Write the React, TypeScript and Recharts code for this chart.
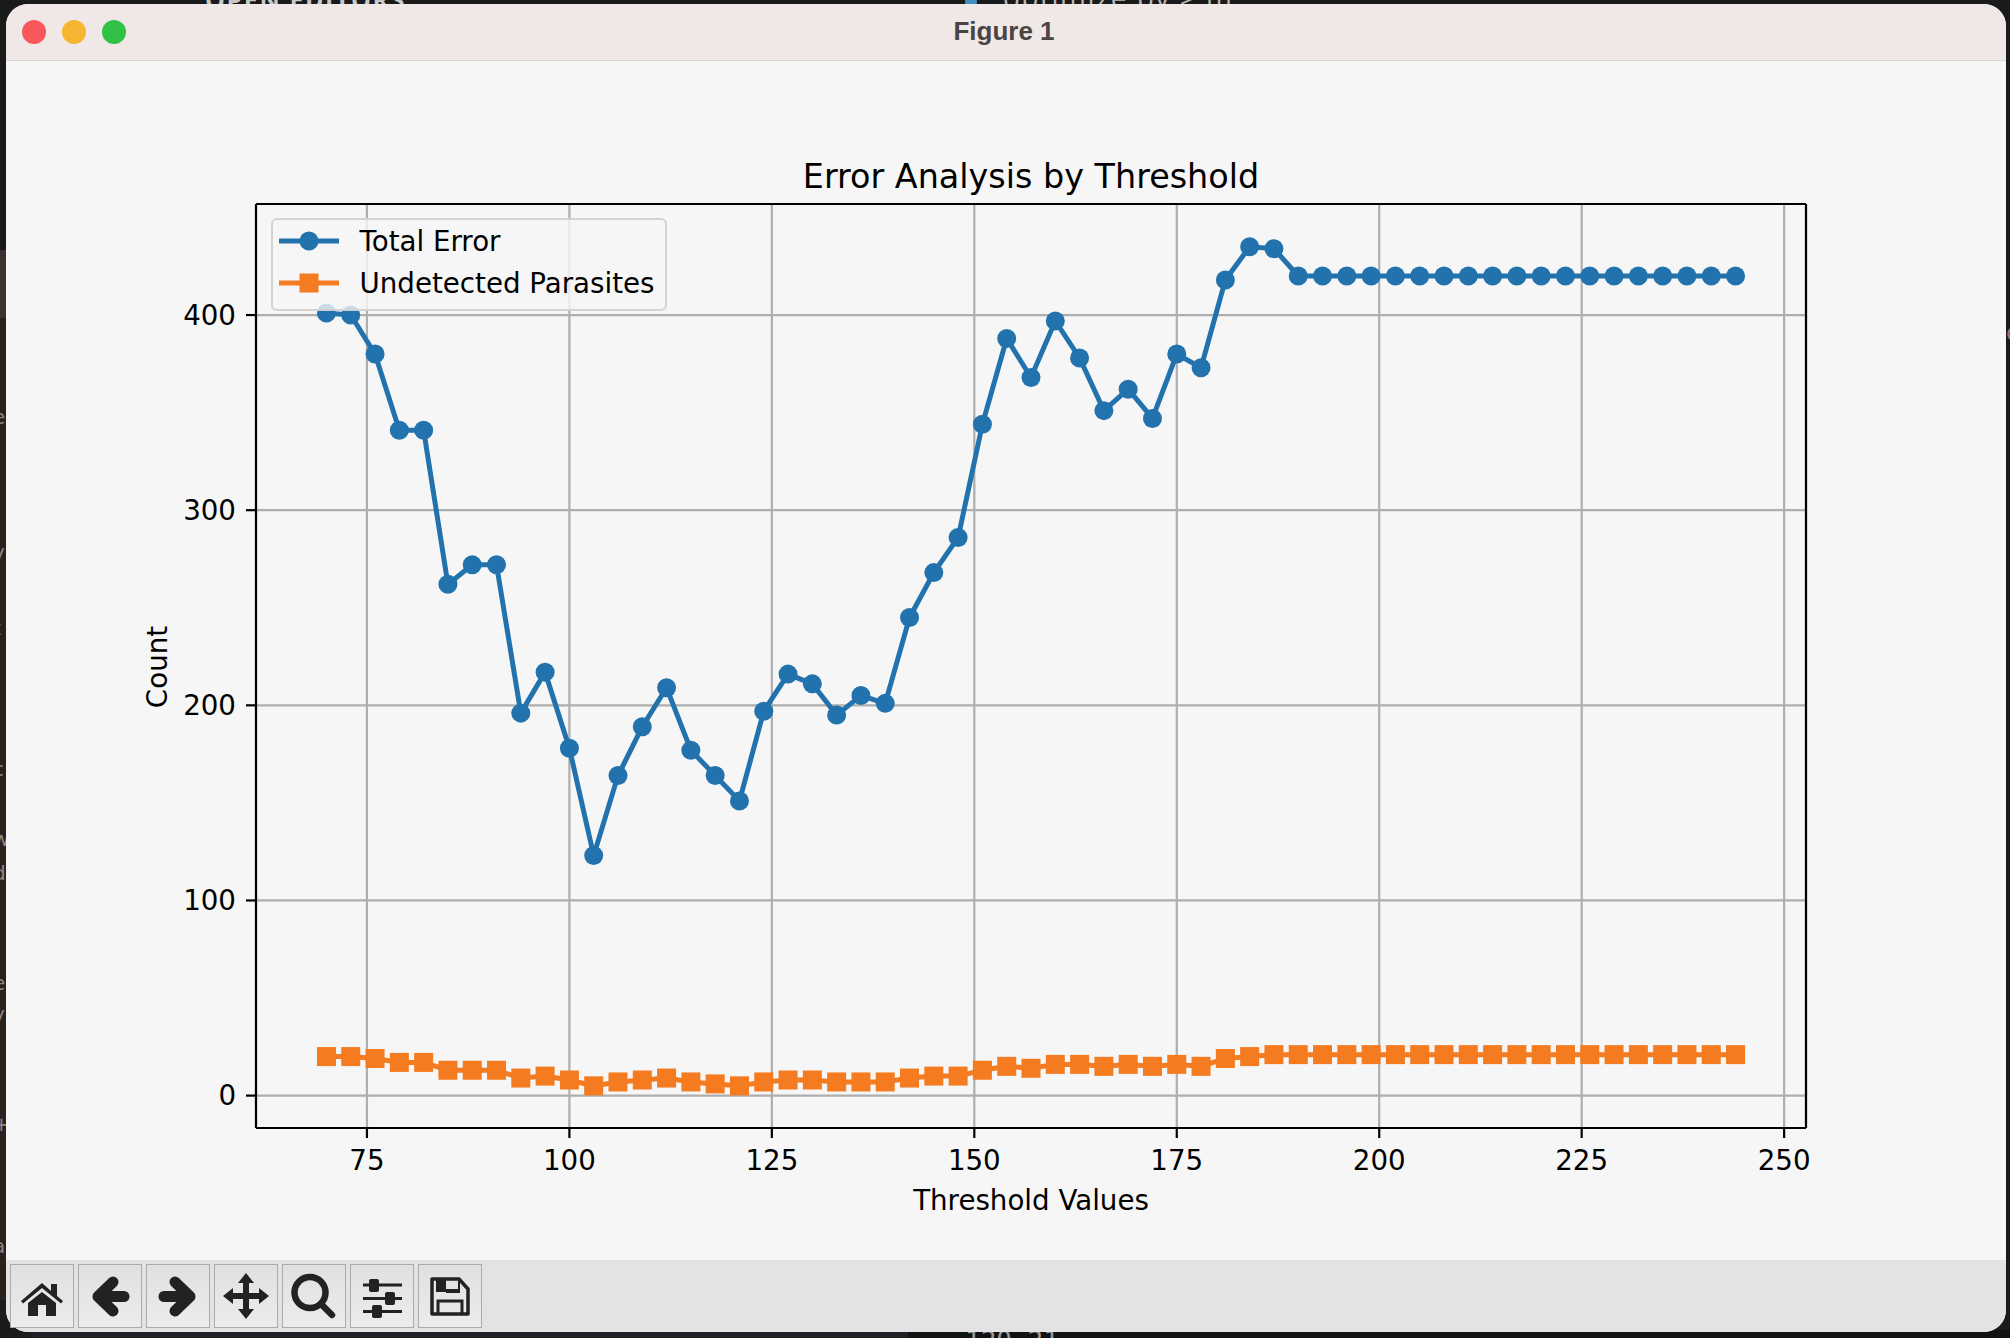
import { LineChart, Line, XAxis, YAxis, CartesianGrid, Legend } from "recharts";

const thresholds = [
  70, 73, 76, 79, 82, 85, 88, 91, 94, 97, 100, 103, 106, 109, 112, 115, 118, 121, 124, 127,
  130, 133, 136, 139, 142, 145, 148, 151, 154, 157, 160, 163, 166, 169, 172, 175, 178, 181, 184, 187,
  190, 193, 196, 199, 202, 205, 208, 211, 214, 217, 220, 223, 226, 229, 232, 235, 238, 241, 244,
];
const totalError = [
  401, 400, 380, 341, 341, 262, 272, 272, 196, 217, 178, 123, 164, 189, 209, 177, 164, 151, 197, 216,
  211, 195, 205, 201, 245, 268, 286, 344, 388, 368, 397, 378, 351, 362, 347, 380, 373, 418, 435, 434,
  420, 420, 420, 420, 420, 420, 420, 420, 420, 420, 420, 420, 420, 420, 420, 420, 420, 420, 420,
];
const undetected = [
  20, 20, 19, 17, 17, 13, 13, 13, 9, 10, 8, 5, 7, 8, 9, 7, 6, 5, 7, 8,
  8, 7, 7, 7, 9, 10, 10, 13, 15, 14, 16, 16, 15, 16, 15, 16, 15, 19, 20, 21,
  21, 21, 21, 21, 21, 21, 21, 21, 21, 21, 21, 21, 21, 21, 21, 21, 21, 21, 21,
];
const xTicks = [75, 100, 125, 150, 175, 200, 225, 250];
const yTicks = [0, 100, 200, 300, 400];

const data = thresholds.map((t, i) => ({ t, total: totalError[i], undetected: undetected[i] }));

const BLUE = "#2273ad";
const ORANGE = "#f47b20";
const FONT = "'DejaVu Sans', sans-serif";
const FS = 27.7;
const PANEL = "#f6f6f6";
const X_DOMAIN = [61.3, 252.7];
const Y_DOMAIN = [-16.6, 456.9];

// bits of the editor window showing behind the figure, cut off at the left edge
const edgeLetters: [string, number][] = [
  ["i", 298], ["e", 405], ["y", 540], [":", 583], ["t", 616], [")", 690], ["c", 757],
  ["w", 827], ["d", 861], ["e", 971], ["y", 1002], ["+", 1112], ["a", 1234],
];

function SquareDot({ cx, cy }: any) {
  return <rect x={cx - 9.5} y={cy - 9.5} width={19} height={19} fill={ORANGE} />;
}

function FrameLegend({ payload }: any) {
  return (
    <div
      style={{
        boxSizing: "border-box",
        width: 396,
        height: 93,
        background: "rgba(246,246,246,0.8)",
        border: "2.2px solid rgba(204,204,204,0.85)",
        borderRadius: 6,
        position: "relative",
        fontFamily: FONT,
        fontSize: FS,
        color: "#000",
      }}
    >
      {(payload || []).map((p: any, i: number) => (
        <div key={p.value} style={{ position: "absolute", left: 0, top: 0 }}>
          <svg width={80} height={90} style={{ position: "absolute", left: 0, top: 0 }}>
            <line x1={6} x2={66} y1={21 + i * 42} y2={21 + i * 42} stroke={p.color} strokeWidth={5} />
            {i === 0 ? (
              <circle cx={36} cy={21} r={9.5} fill={p.color} />
            ) : (
              <rect x={26.5} y={53.5} width={19} height={19} fill={p.color} />
            )}
          </svg>
          <span style={{ position: "absolute", left: 87, top: 5 + i * 42, whiteSpace: "nowrap", lineHeight: "34px" }}>
            {p.value}
          </span>
        </div>
      ))}
    </div>
  );
}

function ToolButton({ left, children }: { left: number; children: any }) {
  return (
    <div
      style={{
        position: "absolute",
        left,
        top: 1264,
        width: 64,
        height: 64,
        boxSizing: "border-box",
        border: "1.5px solid #ababab",
        background: "linear-gradient(#e0e0e0, #ececec)",
      }}
    >
      <svg width={64} height={64} viewBox="0 0 64 64" style={{ position: "absolute", left: -1.5, top: -1.5 }}>
        {children}
      </svg>
    </div>
  );
}

const DARK = "#222222";

function Toolbar() {
  return (
    <>
      <ToolButton left={10}>
        <path fill={DARK} d="M11 37 L32 19 L41 27 V20 H47 V32 L53 37 L51 39.5 L32 24 L13 39.5 Z" />
        <path fill={DARK} d="M18 39 L32 28 L46 39 V52 H36 V41 H28 V52 H18 Z" />
      </ToolButton>
      <ToolButton left={78}>
        <path fill="none" stroke={DARK} strokeWidth={11} strokeLinecap="round" strokeLinejoin="round" d="M46 32.5 H20 M35 18 L20 32.5 L35 47" />
      </ToolButton>
      <ToolButton left={146}>
        <path fill="none" stroke={DARK} strokeWidth={11} strokeLinecap="round" strokeLinejoin="round" d="M18 32.5 H44 M29 18 L44 32.5 L29 47" />
      </ToolButton>
      <ToolButton left={214}>
        <path stroke={DARK} strokeWidth={6} d="M32 14 V50 M13 32 H51" />
        <path fill={DARK} d="M32 9 L40 19 H24 Z M32 55 L40 45 H24 Z M9 32 L19 24 V40 Z M55 32 L45 24 V40 Z" />
      </ToolButton>
      <ToolButton left={282}>
        <circle cx={28} cy={28.5} r={15.5} fill="none" stroke={DARK} strokeWidth={6.5} />
        <path stroke={DARK} strokeWidth={6.5} strokeLinecap="round" d="M39 40 L50 51" />
      </ToolButton>
      <ToolButton left={350}>
        <path stroke={DARK} strokeWidth={3} d="M13 21 H52 M13 34.5 H52 M13 47.5 H52" />
        <rect x={19} y={15} width={10} height={13} rx={2} fill={DARK} />
        <rect x={35} y={28} width={10} height={13} rx={2} fill={DARK} />
        <rect x={22} y={41} width={10} height={13} rx={2} fill={DARK} />
      </ToolButton>
      <ToolButton left={418}>
        <path fill="none" stroke={DARK} strokeWidth={3.5} strokeLinejoin="round" d="M14 15 H41 L50 25 V50 H14 Z" />
        <path fill={DARK} d="M18 16 H28 V28 H18 Z M28 25 H40 V16 H42 V29 H28 Z" />
        <path fill="none" stroke={DARK} strokeWidth={3} d="M20 50 V37 H44 V50" />
      </ToolButton>
    </>
  );
}

function Chrome() {
  return (
    <>
      <div style={{ position: "absolute", left: 0, top: 0, width: 2010, height: 1338, background: "#1a1a1a", overflow: "hidden" }}>
        <div style={{ position: "absolute", left: 0, top: 250, width: 8, height: 1050, background: "#2a211e" }} />
        <div style={{ position: "absolute", left: 0, top: 250, width: 8, height: 68, background: "#3b3330" }} />
        <div style={{ position: "absolute", left: 30, top: 1330, width: 878, height: 8, background: "#1f1f26" }} />
        <div style={{ position: "absolute", left: 908, top: 1330, width: 1102, height: 8, background: "#111111" }} />
        {edgeLetters.map(([c, top]) => (
          <span key={top} style={{ position: "absolute", left: -7, top, fontFamily: FONT, fontSize: 20, color: "#8d8683", lineHeight: "24px" }}>
            {c}
          </span>
        ))}
        <span style={{ position: "absolute", left: 2006, top: 318, fontFamily: FONT, fontSize: 24, color: "#a87868", lineHeight: "30px" }}>
          c
        </span>
        <span style={{ position: "absolute", left: 205, top: -18, fontFamily: "'Open Sans', sans-serif", fontWeight: 700, fontSize: 25, color: "#c8c8c8", letterSpacing: 1.6, whiteSpace: "nowrap" }}>
          OPEN EDITORS
        </span>
        <div style={{ position: "absolute", left: 965, top: -4, width: 12, height: 12, borderRadius: 6, background: "#3f8fc4" }} />
        <span style={{ position: "absolute", left: 1003, top: -22, fontFamily: "'Open Sans', sans-serif", fontSize: 28, letterSpacing: 1.5, color: "#b8b8b8", whiteSpace: "nowrap" }}>
          optimize.py &gt; m
        </span>
        <span style={{ position: "absolute", left: 965, top: 1326, fontFamily: "'DejaVu Sans Mono', monospace", fontSize: 26, color: "#9a9a9a", whiteSpace: "nowrap" }}>
          120 21
        </span>
      </div>
      <div
        style={{
          position: "absolute",
          left: 6,
          top: 4,
          width: 2000,
          height: 1328,
          borderRadius: 22,
          overflow: "hidden",
          background: PANEL,
        }}
      >
        <div style={{ position: "absolute", left: 0, top: 0, right: 0, height: 56, background: "#efe8e6", borderBottom: "1.5px solid #d6d4d3" }} />
        <div style={{ position: "absolute", left: 0, top: 1256, right: 0, height: 72, background: "#e3e3e3" }} />
      </div>
      {["#f9575a", "#f6b630", "#33c145"].map((c, i) => (
        <div key={c} style={{ position: "absolute", left: 22 + i * 40, top: 20, width: 24, height: 24, borderRadius: 12, background: c }} />
      ))}
      <div
        style={{
          position: "absolute",
          left: 0,
          width: 2008,
          top: 14,
          textAlign: "center",
          fontFamily: "'Liberation Sans', sans-serif",
          fontWeight: 700,
          fontSize: 26,
          lineHeight: "34px",
          color: "#4a4444",
        }}
      >
        Figure 1
      </div>
      <Toolbar />
    </>
  );
}

const tickStyle = { fill: "#000", fontSize: FS, fontFamily: FONT };
const axisLine = { stroke: "#000", strokeWidth: 2.2 };
const tickLine = { stroke: "#000", strokeWidth: 2.2 };

export default function App() {
  return (
    <div style={{ position: "absolute", left: 0, top: 0, width: 2010, height: 1338, overflow: "hidden" }}>
      <Chrome />
      <div style={{ position: "absolute", left: 0, top: 0 }}>
        <LineChart
          width={2010}
          height={1338}
          data={data}
          margin={{ top: 203, right: 203, bottom: 130, left: 136 }}
        >
          <CartesianGrid stroke="#aeaeae" strokeWidth={2.2} xAxisId="x" yAxisId="y" />
          <XAxis
            xAxisId="x"
            dataKey="t"
            type="number"
            domain={X_DOMAIN}
            ticks={xTicks}
            interval={0}
            height={80}
            tick={tickStyle}
            tickSize={10}
            tickMargin={12}
            axisLine={axisLine}
            tickLine={tickLine}
            label={{ value: "Threshold Values", position: "insideBottom", offset: -2, fill: "#000", fontSize: FS, fontFamily: FONT }}
          />
          <XAxis
            xAxisId="top"
            orientation="top"
            dataKey="t"
            type="number"
            domain={X_DOMAIN}
            ticks={xTicks}
            height={1}
            tick={false}
            tickLine={false}
            axisLine={axisLine}
            label={{ value: "Error Analysis by Threshold", position: "top", offset: 15, fill: "#000", fontSize: 33.4, fontFamily: FONT }}
          />
          <YAxis
            yAxisId="y"
            type="number"
            domain={Y_DOMAIN}
            ticks={yTicks}
            interval={0}
            width={120}
            tick={tickStyle}
            tickSize={10}
            tickMargin={10}
            axisLine={axisLine}
            tickLine={tickLine}
            label={{ value: "Count", angle: -90, position: "insideLeft", offset: 21, dy: 1, fill: "#000", fontSize: FS, fontFamily: FONT, style: { textAnchor: "middle" } }}
          />
          <YAxis
            yAxisId="right"
            orientation="right"
            type="number"
            domain={Y_DOMAIN}
            ticks={yTicks}
            width={1}
            tick={false}
            tickLine={false}
            axisLine={axisLine}
          />
          <Line
            xAxisId="x"
            yAxisId="y"
            dataKey="total"
            name="Total Error"
            stroke={BLUE}
            strokeWidth={5}
            dot={{ r: 9.5, fill: BLUE, stroke: "none" }}
            activeDot={false}
            isAnimationActive={false}
          />
          <Line
            xAxisId="x"
            yAxisId="y"
            dataKey="undetected"
            name="Undetected Parasites"
            stroke={ORANGE}
            strokeWidth={5}
            dot={(p: any) => <SquareDot key={p.index} cx={p.cx} cy={p.cy} />}
            activeDot={false}
            isAnimationActive={false}
          />
          <Legend
            layout="vertical"
            align="center"
            verticalAlign="middle"
            content={<FrameLegend />}
            wrapperStyle={{ position: "absolute", left: 270.5, top: 218, width: 396, height: 93, margin: 0 }}
          />
        </LineChart>
      </div>
    </div>
  );
}
